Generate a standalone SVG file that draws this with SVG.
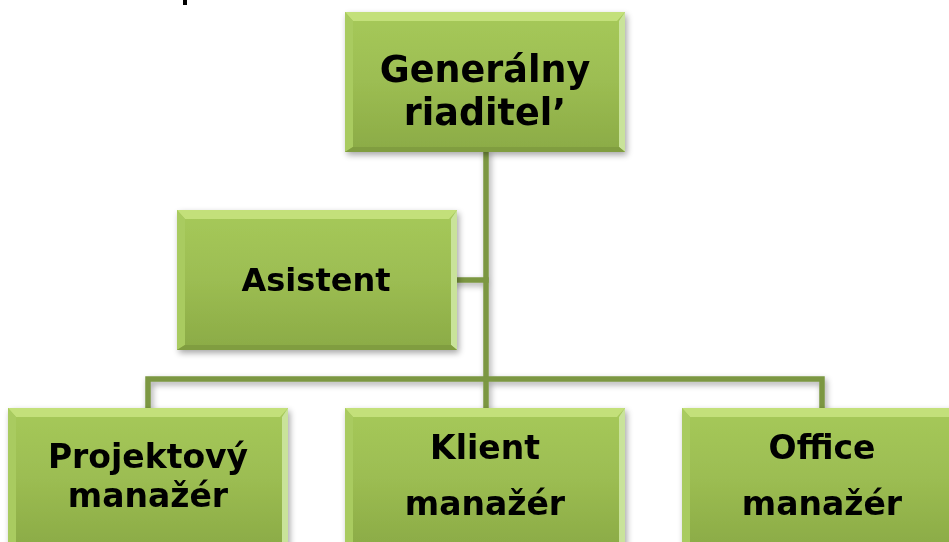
<svg xmlns="http://www.w3.org/2000/svg" width="949" height="542" viewBox="0 0 949 542">
<defs>
<linearGradient id="body" x1="0" y1="0" x2="0" y2="1">
<stop offset="0" stop-color="#a6c95a"/>
<stop offset="0.5" stop-color="#9cbd52"/>
<stop offset="1" stop-color="#8bab46"/>
</linearGradient>
<filter id="sh" x="-10%" y="-10%" width="125%" height="130%">
<feGaussianBlur in="SourceAlpha" stdDeviation="3"/>
<feOffset dx="2" dy="3" result="b"/>
<feComponentTransfer><feFuncA type="linear" slope="0.35"/></feComponentTransfer>
<feMerge><feMergeNode/><feMergeNode in="SourceGraphic"/></feMerge>
</filter>
<g id="box">
<rect x="0" y="0" width="280" height="140" fill="url(#body)"/>
<polygon points="0,0 280,0 272,9 8,9" fill="#c3e07a"/>
<polygon points="0,0 8,9 8,135 0,140" fill="#a9cb60"/>
<polygon points="280,0 280,140 274,135 274,9" fill="#c9e39a"/>
<polygon points="0,140 280,140 274,135 8,135" fill="#809d3f"/>
</g>
</defs>
<style>
.conn{fill:none;stroke:#7b9742;stroke-width:5.5;stroke-linecap:square}
.lbl{font-family:"DejaVu Sans","Verdana",sans-serif;font-weight:bold;font-size:33px;fill:#000;text-anchor:middle}
.big{font-size:36.5px}
.mid{font-size:32px}
</style>
<rect width="949" height="542" fill="#fff"/>
<rect x="183" y="0" width="4" height="5" fill="#000"/>
<g id="connectors" filter="url(#sh)">
<path class="conn" d="M486,152 V408"/>
<path class="conn" d="M456,280 H486"/>
<path class="conn" d="M148,408 V379 H822 V408"/>
</g>
<g id="n-gr" filter="url(#sh)">
<use href="#box" x="345" y="12"/>
<text class="lbl big" x="485" y="82">Generálny</text>
<text class="lbl big" x="485" y="125">riaditel’</text>
</g>
<g id="n-as" filter="url(#sh)">
<use href="#box" x="177" y="210"/>
<text class="lbl mid" x="316" y="291">Asistent</text>
</g>
<g id="n-pm" filter="url(#sh)">
<use href="#box" x="8" y="408"/>
<text class="lbl" x="148" y="468">Projektový</text>
<text class="lbl" x="148" y="507">manažér</text>
</g>
<g id="n-km" filter="url(#sh)">
<use href="#box" x="345" y="408"/>
<text class="lbl" x="485" y="459">Klient</text>
<text class="lbl" x="485" y="515">manažér</text>
</g>
<g id="n-om" filter="url(#sh)">
<use href="#box" x="682" y="408"/>
<text class="lbl" x="822" y="459">Office</text>
<text class="lbl" x="822" y="515">manažér</text>
</g>
</svg>
